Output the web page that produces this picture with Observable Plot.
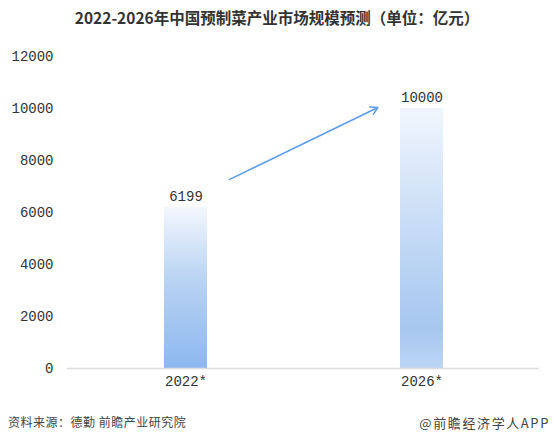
<!DOCTYPE html>
<html>
<head>
<meta charset="utf-8">
<script src="https://cdn.jsdelivr.net/npm/d3@7"></script>
<script src="https://cdn.jsdelivr.net/npm/@observablehq/plot@0.6"></script>
<style>
  body { margin: 0; background: #fff; width: 554px; height: 443px; overflow: hidden; font-family: "Noto Sans CJK SC", sans-serif; }
  #title { height: 36px; line-height: 34px; text-align: center; font-size: 15.5px; font-weight: bold; color: #333; }
  #footer { position: relative; height: 38px; font-size: 12px; color: #444; }
  #footer .l { position: absolute; left: 8px; top: 8px; letter-spacing: 0.5px; }
  #footer .r { position: absolute; right: 4px; top: 8px; font-size: 13px; letter-spacing: 1.6px; }
</style>
</head>
<body>
<div id="title">2022-2026年中国预制菜产业市场规模预测（单位：亿元）</div>
<div id="chart"></div>
<div id="footer"><span class="l">资料来源：德勤 前瞻产业研究院</span><span class="r">@前瞻经济学人APP</span></div>
<script>
const years = ["2022*", "2026*"];
const values = [6199, 10000];
const yTicks = [0, 2000, 4000, 6000, 8000, 10000, 12000];
const trendArrow = [{from: "2022*", to: "2026*", y1: 6460, y2: 10860}];

const data = years.map((y, i) => ({year: y, value: values[i]}));
const mono = "'Liberation Mono', 'DejaVu Sans Mono', monospace";

const plot = Plot.plot({
  width: 554,
  height: 369,
  marginLeft: 67,
  marginRight: 15,
  marginTop: 20,
  marginBottom: 37,
  style: {fontFamily: mono, fontSize: "14px", color: "#333", background: "#fff"},
  x: {domain: years, paddingInner: 0.818, paddingOuter: 0.409, label: null, tickSize: 0, tickPadding: 8},
  y: {domain: [0, 12000], ticks: yTicks, label: null, tickSize: 0, tickPadding: 14, tickFormat: d => String(d)},
  marks: [
    Plot.barY(data, {x: "year", y: "value", fill: (d) => `url(#grad${years.indexOf(d.year)})`}),
    Plot.ruleY([0], {stroke: "#dcdcdc", strokeWidth: 1.5}),
    Plot.text(data, {x: "year", y: "value", text: d => String(d.value), dy: -11, fontFamily: mono, fontSize: 14, fill: "#333"}),
    Plot.arrow(trendArrow, {x1: "from", x2: "to", y1: "y1", y2: "y2", stroke: "#5b9be8", strokeWidth: 1.5, insetStart: 48, insetEnd: 49, headLength: 8})
  ]
});

const svg = d3.select(plot);
const defs = svg.insert("defs", ":first-child");
const stopsList = [
  [[0, "#f3f7fd"], [0.45, "#b9d3f3"], [1, "#8cb8ef"]],
  [[0, "#f1f6fd"], [0.5, "#c3d9f5"], [0.85, "#a6c7f0"], [1, "#bcd5f4"]]
];
stopsList.forEach((stops, i) => {
  const g = defs.append("linearGradient").attr("id", "grad" + i).attr("x1", 0).attr("y1", 0).attr("x2", 0).attr("y2", 1);
  stops.forEach(([o, c]) => g.append("stop").attr("offset", o).attr("stop-color", c));
});
document.getElementById("chart").appendChild(plot);
</script>
</body>
</html>
